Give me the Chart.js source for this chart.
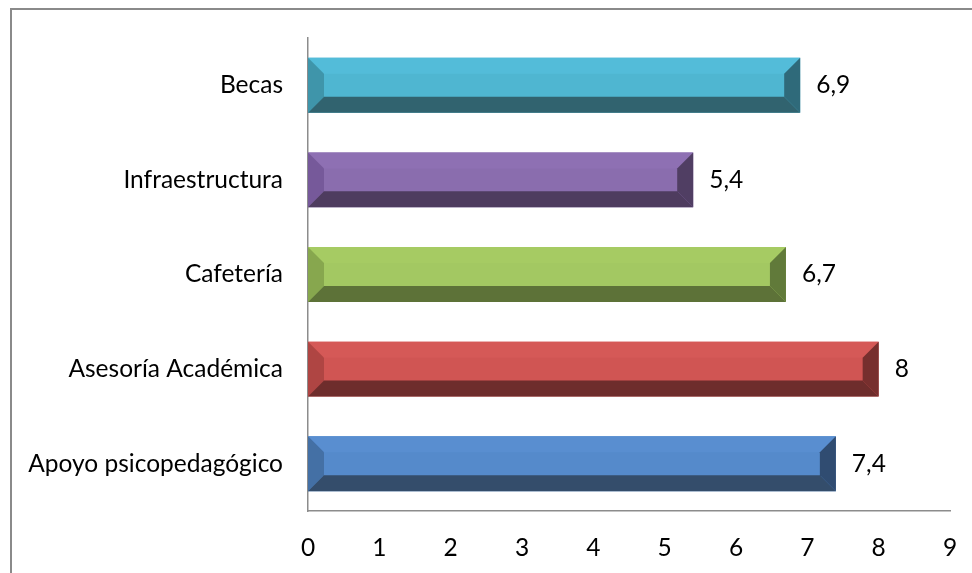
<!DOCTYPE html>
<html>
<head>
<meta charset="utf-8">
<script src="https://cdn.jsdelivr.net/npm/chart.js@4/dist/chart.umd.min.js"></script>
<style>
html,body{margin:0;padding:0;background:#fff;}
#wrap{position:relative;width:972px;height:573px;}
</style>
</head>
<body>
<div id="wrap"><canvas id="c" width="972" height="573"></canvas></div>
<script>
const categories = ['Becas', 'Infraestructura', 'Cafetería', 'Asesoría Académica', 'Apoyo psicopedagógico'];
const values = [6.9, 5.4, 6.7, 8, 7.4];
const xTicks = [0, 1, 2, 3, 4, 5, 6, 7, 8, 9];

// per-bar colours: face, top bevel, left bevel, bottom bevel, right bevel
const faceColors   = ['#4FB6D1', '#8A6DAE', '#A3C862', '#D05553', '#558ACB'];
const topColors    = ['#53BCD9', '#8E70B3', '#A6CB63', '#D55957', '#598ED0'];
const leftColors   = ['#3F95AA', '#76599A', '#87A74E', '#AF4543', '#4470A5'];
const bottomColors = ['#31636F', '#4E3C5F', '#5D7238', '#6E2D2C', '#344D6B'];
const rightColors  = ['#2F6A7A', '#503E63', '#617A3A', '#772F2E', '#304C71'];

const FONT = 'Lato';
const FSIZE = 24.5;

const bevelPlugin = {
  id: 'bevel',
  afterDatasetsDraw(chart) {
    const ctx = chart.ctx;
    const meta = chart.getDatasetMeta(0);
    meta.data.forEach((el, i) => {
      const p = el.getProps(['x', 'y', 'base', 'height'], true);
      const x0 = Math.min(p.base, p.x), x1 = Math.max(p.base, p.x);
      const y0 = p.y - p.height / 2, y1 = p.y + p.height / 2;
      const b = Math.min(16, (x1 - x0) / 2, (y1 - y0) / 2);
      const poly = (pts, col) => {
        ctx.beginPath();
        ctx.moveTo(pts[0][0], pts[0][1]);
        for (let k = 1; k < pts.length; k++) ctx.lineTo(pts[k][0], pts[k][1]);
        ctx.closePath();
        ctx.fillStyle = col;
        ctx.fill();
      };
      ctx.save();
      poly([[x0, y0], [x1, y0], [x1 - b, y0 + b], [x0 + b, y0 + b]], topColors[i]);
      poly([[x0, y0], [x0 + b, y0 + b], [x0 + b, y1 - b], [x0, y1]], leftColors[i]);
      poly([[x0, y1], [x0 + b, y1 - b], [x1 - b, y1 - b], [x1, y1]], bottomColors[i]);
      poly([[x1, y0], [x1, y1], [x1 - b, y1 - b], [x1 - b, y0 + b]], rightColors[i]);
      // value label
      ctx.fillStyle = '#000';
      ctx.font = FSIZE + 'px ' + FONT;
      ctx.textAlign = 'left';
      ctx.textBaseline = 'middle';
      ctx.fillText(String(values[i]).replace('.', ','), x1 + 16, p.y);
      ctx.restore();
    });
  },
  beforeDraw(chart) {
    const ctx = chart.ctx;
    ctx.save();
    ctx.strokeStyle = '#8A8A8A';
    ctx.lineWidth = 2;
    ctx.beginPath();
    ctx.moveTo(11, 573);
    ctx.lineTo(11, 9);
    ctx.lineTo(972, 9);
    ctx.stroke();
    ctx.restore();
  }
};

new Chart(document.getElementById('c'), {
  type: 'bar',
  data: {
    labels: categories,
    datasets: [{
      data: values,
      backgroundColor: faceColors,
      borderWidth: 0,
      categoryPercentage: 0.58,
      barPercentage: 1
    }]
  },
  options: {
    indexAxis: 'y',
    responsive: false,
    animation: false,
    devicePixelRatio: 1,
    layout: { padding: { left: 0, right: 22, top: 38, bottom: 0 } },
    plugins: { legend: { display: false }, tooltip: { enabled: false } },
    scales: {
      x: {
        min: 0, max: 9,
        afterBuildTicks(scale) { scale.ticks = xTicks.map(v => ({ value: v })); },
        afterFit(scale) { scale.height = 62; scale.paddingLeft = 0; scale.paddingRight = 0; },
        grid: { display: false, drawTicks: false, tickLength: 0 },
        border: { display: true, color: '#8C8C8C', width: 1.5 },
        ticks: { color: '#000', font: { family: FONT, size: FSIZE }, padding: 22, maxRotation: 0 }
      },
      y: {
        afterFit(scale) { scale.width = 308; scale.paddingTop = 0; scale.paddingBottom = 0; },
        grid: { display: false, drawTicks: false, tickLength: 0 },
        border: { display: true, color: '#8C8C8C', width: 1.5 },
        ticks: { color: '#000', font: { family: FONT, size: FSIZE }, padding: 25 }
      }
    }
  },
  plugins: [bevelPlugin]
});
</script>
</body>
</html>
